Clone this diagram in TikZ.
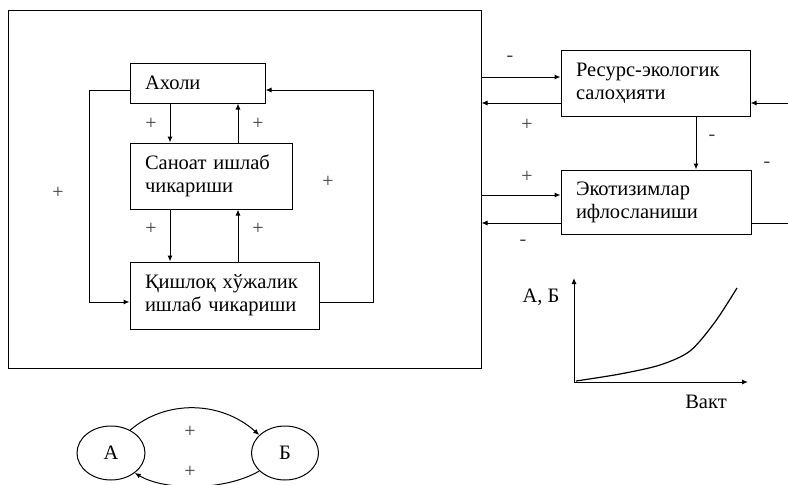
\documentclass[tikz,border=0pt]{standalone}
\usepackage{fontspec}
\setmainfont{Liberation Serif}
\usetikzlibrary{arrows.meta,shapes.geometric}
\begin{document}
\begin{tikzpicture}[x=1pt,y=-1pt,
  line width=1pt,
  arr/.style={-{Latex[length=6pt,width=5pt]}},
  box/.style={draw,rectangle,inner xsep=15pt,inner ysep=0pt,align=left,
    font=\fontsize{20.5}{23}\selectfont},
  sign/.style={font=\fontsize{20}{20}\selectfont,inner sep=0pt,text=black!75},
  lab/.style={font=\fontsize{20.5}{23}\selectfont,inner sep=0pt}]
\clip (0,0) rectangle (788,485);
\fill[white] (0,0) rectangle (788,485);
% big system box
\node[draw,rectangle,minimum width=473,minimum height=358,inner sep=0pt] (sys) at (244.5,189) {};
% inner boxes
\node[box,minimum width=135,minimum height=40,text width=105] (aholi) at (197.5,83) {Ахоли};
\node[box,minimum width=162,minimum height=66,text width=132] (sanoat) at (211,176) {Саноат ишлаб\\чикариши};
\node[box,minimum width=189,minimum height=67,text width=159] (qish) at (224.5,295.5) {Қишлоқ хўжалик\\ишлаб чикариши};
% right boxes
\node[box,minimum width=189,minimum height=66,text width=159] (res) at (655.5,83) {Ресурс-экологик\\салоҳияти};
\node[box,minimum width=190,minimum height=64,text width=160] (eko) at (656,202) {Экотизимлар\\ифлосланиши};
% helper coordinates
\coordinate (L1) at (89,90);
\coordinate (L2) at (89,302);
\coordinate (R1) at (373,302);
\coordinate (R2) at (373,90);
\coordinate (dx) at (170,0);
\coordinate (ux) at (238,0);
% loops
\draw[arr] (aholi.west |- L1) -- (L1) -- (L2) -- (qish.west |- L2);
\draw[arr] (qish.east |- R1) -- (R1) -- (R2) -- (aholi.east |- R2);
% vertical arrows
\draw[arr] (aholi.south -| dx) -- (sanoat.north -| dx);
\draw[arr] (sanoat.north -| ux) -- (aholi.south -| ux);
\draw[arr] (sanoat.south -| dx) -- (qish.north -| dx);
\draw[arr] (qish.north -| ux) -- (sanoat.south -| ux);
% signs inner
\node[sign] (p1) at (151,124) {+};
\node[sign] (p2) at (258,124) {+};
\node[sign] (p3) at (151,229) {+};
\node[sign] (p4) at (258,229) {+};
\node[sign] (p5) at (58,193) {+};
\node[sign] (p6) at (328,182) {+};
% right connections
\coordinate (y1) at (0,77);
\coordinate (y2) at (0,103);
\coordinate (y3) at (0,195);
\coordinate (y4) at (0,223);
\coordinate (edge1) at (788,103);
\coordinate (edge2) at (788,223);
\coordinate (vx) at (696,0);
\draw[arr] (sys.east |- y1) -- (res.west |- y1);
\draw[arr] (res.west |- y2) -- (sys.east |- y2);
\draw[arr] (sys.east |- y3) -- (eko.west |- y3);
\draw[arr] (eko.west |- y4) -- (sys.east |- y4);
\draw[arr] (edge1) -- (res.east |- edge1);
\draw (eko.east |- edge2) -- (edge2);
\draw[arr] (res.south -| vx) -- (eko.north -| vx);
\node[sign] (m1) at (510,59) {-};
\node[sign] (p7) at (527,125) {+};
\node[sign] (p8) at (527,177) {+};
\node[sign] (m2) at (523,243) {-};
\node[sign] (m3) at (712,138) {-};
\node[sign] (m4) at (767,165) {-};
% graph
\coordinate (O) at (574,382);
\coordinate (Yt) at (574,278);
\coordinate (Xe) at (748,382);
\draw[arr] (O) -- (Yt);
\draw[arr] (O) -- (Xe);
\draw[line width=1.2pt] plot[smooth] coordinates {(576,381) (620,374) (660,365) (690,351) (715,322) (737,288)};
\node[lab] (yl) at (541,297) {А, Б};
\node[lab] (xl) at (706,402) {Вакт};
% bottom ellipses
\node[draw,ellipse,minimum width=68,minimum height=54,inner sep=0pt,lab] (A) at (111,453) {А};
\node[draw,ellipse,minimum width=67,minimum height=54,inner sep=0pt,lab] (B) at (285,453) {Б};
\draw[arr] (A.50) .. controls (165,400) and (220,400) .. (B.145);
\draw[arr] (B.215) .. controls (225,491) and (165,491) .. (A.-40);
\node[sign] (p9) at (190,432) {+};
\node[sign] (p10) at (190,472) {+};
\end{tikzpicture}
\end{document}
